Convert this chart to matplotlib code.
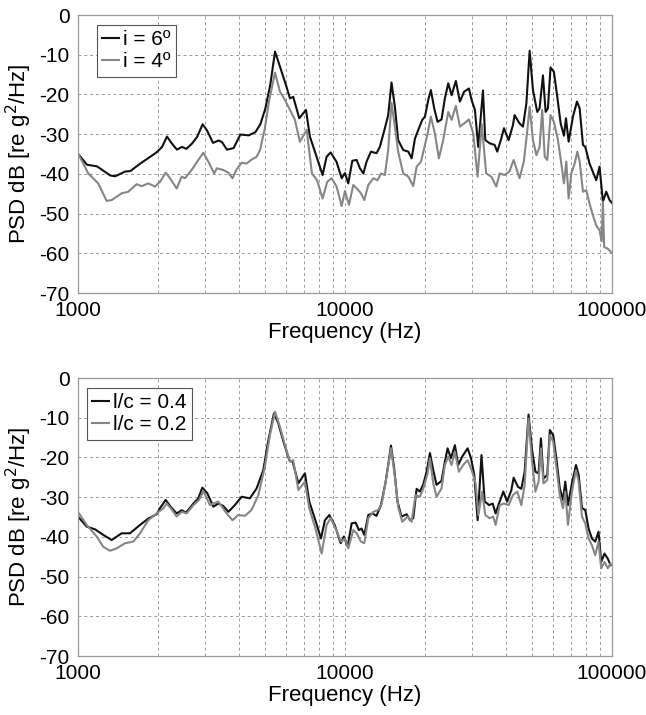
import numpy as np
import matplotlib.pyplot as plt
from matplotlib.ticker import LogLocator, NullFormatter

plt.rcParams['font.family'] = ['Liberation Sans', 'DejaVu Sans']
plt.rcParams['axes.unicode_minus'] = False

# ---- top panel: incidence angle ----
f_top_6 = [1000, 1080, 1178, 1321, 1379, 1504, 1570, 1712, 1921, 1977, 2066, 2154,
           2250, 2348, 2450, 2546, 2671, 2794, 2930, 3045, 3205, 3364, 3463, 3613,
           3828, 4057, 4358, 4618, 4821, 5031, 5254, 5470, 5710, 6010, 6223, 6400,
           6743, 7145, 7390, 7830, 8245, 8535, 8836, 9303, 9720, 10000, 10290, 10653,
           11060, 11380, 11720, 12050, 12510, 13130, 13510, 14110, 14520, 14940,
           15380, 15820, 16530, 17270, 17770, 18290, 18930, 19480, 19930, 20510,
           20980, 21590, 22220, 23000, 23670, 24370, 25080, 26020, 26940, 27950,
           29130, 29800, 30670, 31560, 32880, 33540, 34830, 36350, 37200, 38500,
           39400, 41020, 42580, 43180, 45080, 46420, 47800, 49170, 50600, 52500,
           53570, 55150, 56440, 57550, 58880, 60600, 62400, 64250, 66100, 67260,
           68820, 71430, 73960, 75690, 77870, 79430, 82430, 84840, 87310, 89860,
           92480, 95180, 97960, 100000]
db_top_6 = [-34.9, -37.7, -38.1, -40.4, -40.6, -39.4, -39.3, -37.4, -35.1, -34.5, -33.2, -30.6,
            -32.4, -33.9, -33.2, -33.7, -32.4, -30.7, -27.5, -29.1, -32.2, -31.6, -32.0, -33.9,
            -33.5, -30.1, -30.3, -29.5, -27.5, -23.6, -17.5, -9.2, -13.0, -17.6, -21.0, -20.6,
            -26.0, -23.9, -30.6, -35.7, -40.3, -35.7, -34.6, -37.0, -41.1, -39.8, -42.4, -36.7,
            -36.5, -38.6, -39.9, -36.9, -34.4, -34.8, -33.2, -28.5, -25.2, -17.0,
            -23.1, -31.5, -34.0, -34.4, -36.1, -31.1, -28.5, -26.4, -25.6, -21.4,
            -18.9, -23.5, -26.9, -26.3, -21.0, -17.2, -20.2, -16.6, -21.8, -19.3,
            -18.5, -21.4, -23.9, -33.2, -19.0, -31.5, -32.3, -32.7, -34.4, -31.1,
            -28.5, -31.5, -27.7, -25.2, -27.3, -28.1, -22.3, -9.0, -18.9, -24.4,
            -23.5, -15.2, -24.4, -23.5, -13.2, -14.3, -20.6, -27.3, -30.4, -26.0,
            -31.9, -25.6, -21.8, -23.5, -32.7, -33.2, -37.4, -39.5, -41.6, -38.2,
            -47.0, -44.5, -46.6, -47.3]

f_top_4 = [1003, 1093, 1191, 1280, 1337, 1457, 1543, 1659, 1732, 1834, 1943, 2028,
           2131, 2211, 2343, 2445, 2516, 2666, 2822, 2947, 3077, 3239, 3311, 3497,
           3657, 3791, 3926, 4102, 4282, 4470, 4667, 4808, 5012, 5204, 5470, 5710,
           5960, 6223, 6495, 6780, 7190, 7520, 7860, 8245, 8585, 8910, 9303, 9720,
           10000, 10350, 10745, 11155, 11480, 11815, 12230, 12770, 13250, 13640,
           14110, 14520, 14940, 15380, 15820, 16530, 17270, 18020, 18550, 19270,
           19930, 20400, 20980, 21710, 22480, 23330, 24370, 25080, 26020, 26940,
           27950, 29130, 30230, 31380, 32530, 33800, 35340, 36870, 37990, 39610,
           41300, 42830, 45080, 46770, 48200, 49170, 50600, 52130, 53570, 54800,
           56000, 57240, 58880, 60600, 62770, 64610, 66100, 67460, 68820, 70420,
           72500, 74180, 75690, 77870, 80100, 82430, 84840, 87310, 89860, 91500,
           92480, 93500, 96230, 100000]
db_top_4 = [-35.0, -39.9, -42.4, -46.8, -46.6, -44.9, -44.5, -42.6, -43.1, -42.4, -43.2, -42.0,
            -39.7, -41.1, -43.7, -40.7, -41.1, -39.0, -36.5, -34.7, -36.9, -39.9, -38.6, -39.0,
            -39.7, -41.1, -38.9, -37.2, -37.4, -36.4, -35.7, -34.0, -28.5, -21.4, -14.5, -19.3,
            -21.4, -23.9, -26.4, -31.9, -28.9, -39.9, -41.6, -46.2, -42.0, -41.1, -43.2, -48.1,
            -44.3, -47.8, -42.8, -43.9, -44.9, -46.6, -42.8, -41.1, -41.6, -39.9,
            -40.3, -34.0, -22.1, -28.1, -34.4, -39.9, -40.7, -43.1, -38.2, -36.9,
            -32.7, -29.8, -25.6, -29.8, -36.1, -31.5, -24.4, -26.4, -22.9, -28.1,
            -27.3, -26.3, -29.8, -40.7, -27.5, -39.9, -40.7, -43.2, -39.9, -40.3,
            -39.4, -36.5, -41.1, -36.9, -29.0, -23.1, -31.5, -35.3, -33.2, -23.9,
            -35.7, -36.5, -25.2, -26.9, -31.5, -37.4, -42.4, -36.9, -46.2, -39.9,
            -37.4, -34.4, -36.9, -44.5, -44.1, -47.5, -50.4, -53.0, -54.2, -57.0,
            -47.0, -58.4, -58.8, -59.9]

# ---- bottom panel: l/c ----
f_bot_04 = [1000, 1078, 1158, 1244, 1337, 1457, 1566, 1707, 1834, 1971, 2028, 2130,
            2223, 2341, 2446, 2540, 2707, 2824, 2922, 3050, 3214, 3357, 3497, 3657,
            3870, 4102, 4405, 4667, 4944, 5155, 5420, 5628, 5880, 6190, 6370, 6690,
            7080, 7350, 7780, 8130, 8415, 8735, 9150, 9640, 9910, 10233, 10592, 10963,
            11283, 11540, 11815, 12230, 12660, 13130, 13640, 14190, 14520, 14870,
            15290, 15730, 16290, 17020, 17520, 18020, 18550, 19090, 19640, 20220,
            20810, 21410, 22030, 23000, 23670, 24230, 24940, 25810, 26560, 27480,
            28800, 29650, 30500, 31400, 32460, 33370, 34660, 35760, 36650, 37740,
            39200, 40500, 42000, 42830, 44470, 45760, 47100, 48700, 50200, 51670,
            53110, 54200, 55400, 57240, 58530, 60250, 62030, 63770, 65550, 66860,
            68430, 70820, 73320, 75040, 77220, 79430, 81740, 84110, 86560, 89060,
            91130, 93770, 96500, 98800]
db_bot_04 = [-34.9, -37.4, -38.1, -39.5, -40.8, -39.1, -39.1, -37.0, -35.4, -34.3, -32.8, -30.7,
             -32.4, -34.1, -33.3, -33.9, -31.6, -30.3, -27.6, -29.0, -32.4, -31.6, -32.2, -33.7,
             -32.0, -29.9, -30.3, -27.8, -23.2, -16.0, -8.9, -11.4, -16.0, -20.7, -21.1, -26.5,
             -24.0, -31.1, -36.2, -40.4, -35.8, -34.5, -37.0, -41.6, -39.9, -42.5, -36.6, -36.4,
             -38.3, -37.9, -39.5, -34.5, -34.1, -34.7, -32.0, -26.3, -21.9, -17.0,
             -22.8, -31.1, -34.9, -34.3, -35.8, -35.3, -27.9, -28.6, -26.8, -23.6,
             -18.9, -23.2, -26.9, -25.9, -21.1, -17.7, -20.2, -16.9, -21.9, -19.8,
             -17.7, -20.2, -24.4, -35.8, -19.4, -31.1, -32.0, -31.6, -34.1, -31.6,
             -28.6, -31.1, -28.2, -25.1, -27.4, -27.9, -23.6, -9.2, -18.1, -23.6,
             -24.0, -15.2, -25.3, -24.4, -13.1, -14.4, -20.7, -27.8, -30.7, -26.1,
             -32.0, -26.5, -21.9, -24.4, -32.8, -33.2, -37.9, -40.4, -41.2, -38.7,
             -46.3, -44.2, -45.5, -47.1]

f_bot_02 = [1000, 1078, 1175, 1244, 1318, 1396, 1500, 1612, 1707, 1834, 1971, 2089,
            2149, 2245, 2341, 2446, 2553, 2707, 2840, 2950, 3121, 3354, 3605, 3791,
            3980, 4227, 4470, 4737, 5012, 5235, 5470, 5710, 5960, 6223, 6400, 6690,
            7080, 7350, 7780, 8180, 8535, 8836, 9220, 9660, 10000, 10290, 10745, 11060,
            11480, 11815, 12230, 12770, 13330, 13730, 14190, 14870, 15380, 15820,
            16390, 17170, 17770, 18380, 19090, 19640, 20400, 20810, 21410, 22030,
            23000, 23670, 24370, 25080, 25810, 26710, 27700, 28800, 29820, 30850,
            31600, 32640, 33540, 34830, 35930, 36650, 38000, 39400, 41020, 42580,
            44210, 45760, 47100, 48700, 50200, 51670, 53110, 54200, 55400, 57240,
            58530, 60250, 62030, 63770, 65550, 66860, 68430, 70820, 73320, 75040,
            77220, 79430, 81740, 84110, 86560, 89060, 91130, 93770, 96500, 98800]
db_bot_02 = [-33.7, -37.0, -39.9, -42.5, -43.5, -42.9, -41.6, -41.2, -39.1, -35.8, -34.1, -32.8,
             -31.6, -33.1, -34.9, -33.7, -34.1, -32.0, -30.7, -28.5, -32.0, -31.1, -34.1, -35.8,
             -34.5, -34.7, -33.2, -29.5, -22.3, -14.4, -8.5, -12.3, -16.9, -21.1, -20.7, -28.2,
             -26.1, -32.8, -38.3, -44.2, -37.0, -35.3, -37.9, -41.2, -40.4, -42.9, -38.3, -39.1,
             -41.2, -41.6, -35.3, -33.7, -33.2, -31.6, -26.3, -17.7, -24.8, -32.4,
             -36.2, -34.9, -36.2, -29.5, -29.9, -27.9, -24.0, -20.2, -26.5, -29.9,
             -27.8, -21.9, -19.8, -21.9, -18.6, -23.6, -21.9, -20.7, -23.2, -26.5,
             -34.5, -28.6, -34.5, -35.3, -34.9, -37.0, -32.0, -31.6, -32.0, -29.5,
             -28.6, -32.0, -26.9, -10.2, -21.1, -28.6, -26.1, -17.7, -26.5, -25.7,
             -14.4, -16.0, -22.8, -29.5, -32.8, -28.6, -37.0, -28.6, -23.2, -26.1,
             -34.9, -36.6, -40.4, -42.1, -44.6, -41.2, -47.9, -46.3, -47.9, -46.7]

panels = [
    (f_top_6, db_top_6, 'i = 6º', f_top_4, db_top_4, 'i = 4º', 0.036),
    (f_bot_04, db_bot_04, 'l/c = 0.4', f_bot_02, db_bot_02, 'l/c = 0.2', 0.017),
]

fig = plt.figure(figsize=(6.46, 7.15), dpi=100)
axes = [fig.add_axes([0.1207, 0.5902, 0.8266, 0.3888]),
        fig.add_axes([0.1207, 0.0825, 0.8266, 0.3888])]

for ax, (fa, da, la, fb, db, lb, legx) in zip(axes, panels):
    ax.semilogx(fa, da, color='#111111', lw=1.5, label=la)
    ax.semilogx(fb, db, color='#868686', lw=1.5, label=lb)
    ax.set_xlim(1000, 100000)
    ax.set_ylim(-70, 0)
    ax.set_yticks(np.arange(-70, 1, 10))
    ax.set_xticks([1000, 10000, 100000])
    ax.set_xticklabels(['1000', '10000', '100000'])
    ax.xaxis.set_minor_locator(LogLocator(base=10, subs=np.arange(2, 10)))
    ax.xaxis.set_minor_formatter(NullFormatter())
    ax.grid(True, which='both', axis='x', color='#9a9a9a', ls=(0, (3, 3)), lw=0.7)
    ax.grid(True, which='major', axis='y', color='#9a9a9a', ls=(0, (3, 3)), lw=0.7)
    ax.tick_params(which='both', length=0, labelsize=15, pad=6)
    for s in ax.spines.values():
        s.set_color('#9a9a9a')
        s.set_linewidth(0.9)
    ax.set_xlabel('Frequency (Hz)', fontsize=16, labelpad=1)
    ax.set_ylabel('PSD dB [re g$^2$/Hz]', fontsize=16, labelpad=4)
    leg = ax.legend(loc='upper left', bbox_to_anchor=(legx, 0.964), borderaxespad=0,
                    fontsize=15, handlelength=0.8, handletextpad=0.2, borderpad=0.25,
                    labelspacing=0.15, fancybox=False, framealpha=1)
    leg.get_frame().set_edgecolor('#555555')
    leg.get_frame().set_linewidth(0.8)

fig.savefig('out.png', dpi=100)
